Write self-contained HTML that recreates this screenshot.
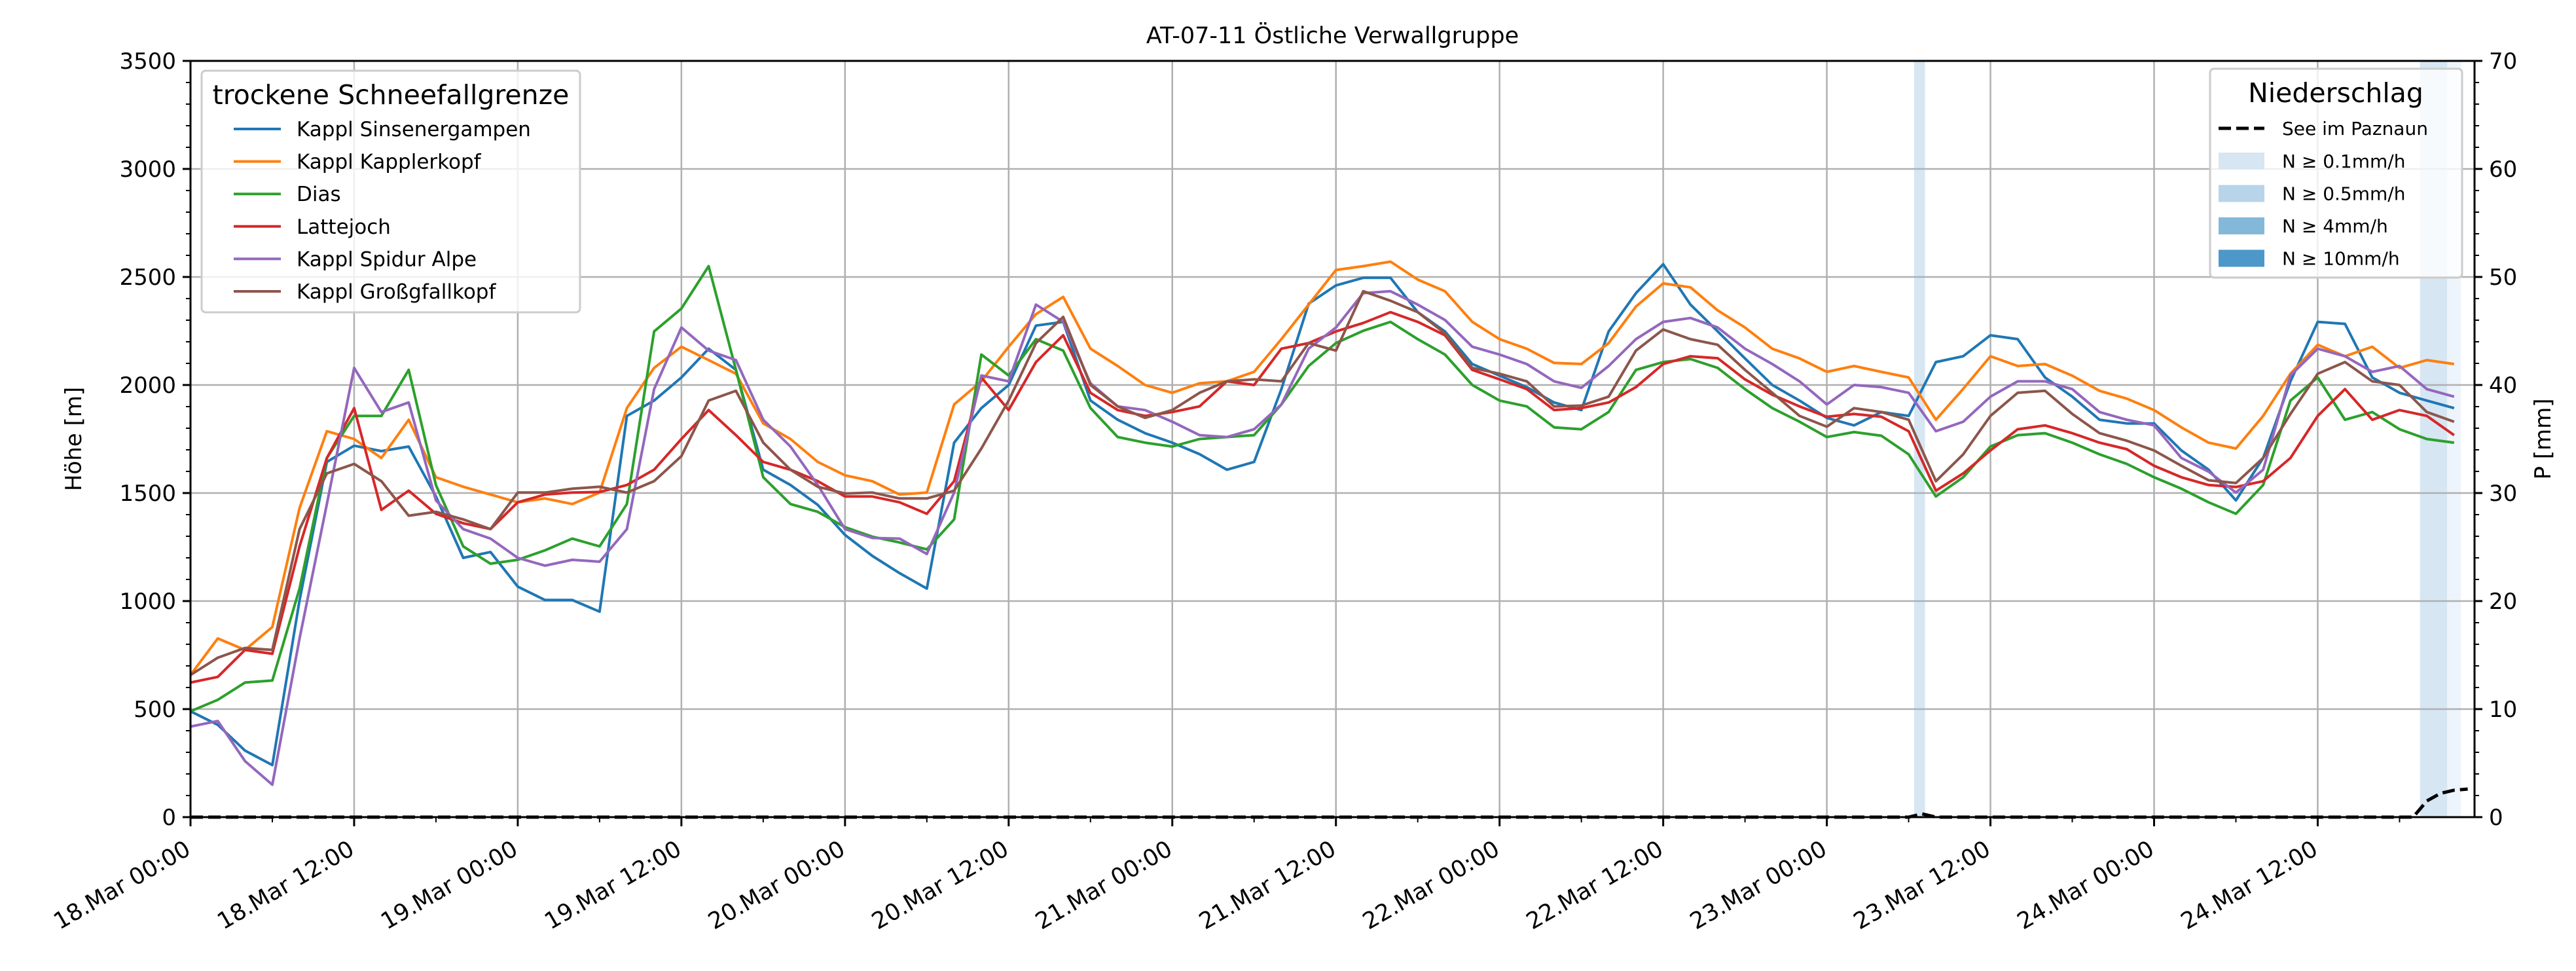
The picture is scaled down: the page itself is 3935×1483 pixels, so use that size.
<!DOCTYPE html>
<html><head><meta charset="utf-8">
<style>
html,body{margin:0;padding:0;background:#fff;}
svg{display:block;font-family:"DejaVu Sans","Liberation Sans",sans-serif;}
</style></head>
<body>
<svg id="chart" width="3935" height="1483" viewBox="0 0 3935 1483" xmlns="http://www.w3.org/2000/svg">
<rect width="3935" height="1483" fill="#fff"/>
<g id="bands"></g>
<g id="grid"></g>
<g id="series"></g>
<g id="axes"></g>
<g id="legends"></g>
</svg>
<script>
const hours = [];
for (let h = 0; h <= 166; h += 2) hours.push(h);
const seriesNames = ["Kappl Sinsenergampen","Kappl Kapplerkopf","Dias","Lattejoch","Kappl Spidur Alpe","Kappl Großgfallkopf"];
const seriesColors = ["#1f77b4","#ff7f0e","#2ca02c","#d62728","#9467bd","#8c564b"];
const sinsener = [490,427,308,241,1004,1644,1719,1694,1715,1484,1200,1227,1067,1005,1005,951,1857,1928,2035,2168,2070,1608,
1537,1445,1306,1209,1129,1058,1733,1893,2000,2275,2292,1928,1839,1777,1733,1680,1608,1644,1981,2376,
2461,2496,2496,2337,2248,2097,2043,1990,1919,1884,2248,2425,2559,2372,2248,2123,2000,1928,1848,1813,1875,
1857,2106,2133,2230,2212,2035,1946,1839,1822,1822,1697,1608,1466,1662,2017,2292,2283,2035,1964,1928,1893];
const kapplerkopf = [658,827,774,880,1431,1786,1750,1662,1839,1573,1529,1493,1457,1475,1449,1502,1893,2079,2177,2115,2052,1822,
1750,1644,1582,1555,1493,1502,1910,2017,2177,2328,2408,2168,2088,2000,1964,2008,2017,2061,2212,2372,
2532,2550,2571,2488,2434,2292,2212,2168,2102,2097,2194,2363,2470,2452,2345,2266,2168,2123,2061,2088,2061,
2035,1839,1982,2133,2088,2097,2043,1973,1937,1884,1804,1733,1706,1857,2052,2186,2133,2177,2079,2115,2097];
const dias = [490,543,623,632,1058,1662,1857,1857,2070,1537,1253,1173,1191,1235,1289,1253,1449,2248,2354,2550,2070,1573,
1449,1413,1342,1298,1271,1239,1378,2141,2044,2212,2159,1893,1759,1733,1715,1750,1759,1768,1910,2088,
2194,2251,2292,2212,2141,2000,1928,1901,1804,1795,1875,2070,2106,2120,2079,1981,1893,1830,1759,1782,1765,
1679,1484,1573,1715,1768,1777,1733,1679,1635,1573,1520,1457,1404,1537,1928,2035,1839,1875,1795,1750,1733];
const lattejoch = [623,649,774,756,1253,1662,1893,1422,1511,1404,1360,1333,1457,1493,1502,1505,1537,1608,1750,1884,1768,1644,
1608,1555,1484,1484,1457,1404,1555,2035,1884,2106,2230,1964,1884,1857,1875,1901,2017,2000,2168,2194,
2248,2287,2337,2292,2230,2070,2026,1981,1884,1893,1919,1990,2097,2133,2124,2026,1955,1901,1853,1866,1853,
1786,1511,1591,1697,1795,1813,1777,1733,1703,1626,1573,1537,1528,1555,1662,1857,1981,1839,1884,1857,1768];
const spidur = [419,445,259,150,827,1449,2079,1875,1919,1466,1333,1289,1200,1164,1191,1182,1333,1981,2266,2159,2115,1839,
1715,1537,1333,1292,1289,1218,1502,2044,2017,2372,2292,2008,1901,1884,1830,1768,1759,1795,1910,2168,
2266,2425,2434,2372,2301,2177,2141,2097,2017,1987,2088,2212,2292,2310,2266,2168,2097,2017,1910,2000,1990,
1964,1786,1830,1946,2017,2017,1981,1875,1839,1813,1662,1599,1502,1608,2044,2168,2133,2061,2088,1981,1946];
const grossgfall = [658,738,783,774,1333,1591,1635,1555,1395,1413,1378,1333,1502,1502,1520,1529,1502,1555,1671,1928,1973,1733,
1608,1529,1498,1502,1475,1475,1511,1706,1928,2194,2315,2000,1901,1848,1884,1964,2017,2026,2017,2194,
2159,2434,2390,2337,2239,2079,2052,2017,1901,1905,1946,2159,2257,2212,2186,2070,1964,1857,1807,1893,1875,
1839,1555,1679,1857,1964,1973,1866,1777,1742,1697,1626,1559,1546,1662,1866,2052,2106,2017,2000,1875,1830];
const precipHours = [0,126,127,128,129,163,164,165,166,167];
const precipValues = [0,0,0.3,0,0,0,1.5,2.2,2.5,2.6];
const bandStart = [126.4,163.5,165.5];
const bandEnd = [127.2,165.5,166.5];
const bandColor = ["#d6e6f3","#d6e6f3","#eef4fb"];
const xTickHours = [0,12,24,36,48,60,72,84,96,108,120,132,144,156];
const xTickLabels = ["18.Mar 00:00","18.Mar 12:00","19.Mar 00:00","19.Mar 12:00","20.Mar 00:00","20.Mar 12:00","21.Mar 00:00","21.Mar 12:00","22.Mar 00:00","22.Mar 12:00","23.Mar 00:00","23.Mar 12:00","24.Mar 00:00","24.Mar 12:00"];
const yTicks = [0,500,1000,1500,2000,2500,3000,3500];
const pTicks = [0,10,20,30,40,50,60,70];

const L=291,R=3780,T=93,B=1248,XMAX=167.5;
const x = h => L + h*(R-L)/XMAX;
const y = v => B - v*(B-T)/3500;
const yp = p => B - p*(B-T)/70;
const NS="http://www.w3.org/2000/svg";
function mk(tag, attrs, parent){const e=document.createElementNS(NS,tag);for(const k in attrs)e.setAttribute(k,attrs[k]);parent.appendChild(e);return e;}
const gB=document.getElementById('bands'),gG=document.getElementById('grid'),gS=document.getElementById('series'),gA=document.getElementById('axes'),gL=document.getElementById('legends');

bandStart.forEach((s,i)=>{
  const r=mk('rect',{x:x(s),y:T,width:x(bandEnd[i])-x(s),height:B-T,fill:bandColor[i]},gB);
  
  
});
xTickHours.forEach(h=>{const l=mk('line',{x1:x(h),x2:x(h),y1:T,y2:B,stroke:'#b0b0b0','stroke-width':2.5},gG);
  });
yTicks.forEach(v=>{const l=mk('line',{x1:L,x2:R,y1:y(v),y2:y(v),stroke:'#b0b0b0','stroke-width':2.5},gG);
  });

const allSeries=[sinsener,kapplerkopf,dias,lattejoch,spidur,grossgfall];
allSeries.forEach((arr,i)=>{
  const d=arr.map((v,j)=>(j?'L':'M')+x(hours[j]).toFixed(1)+','+y(v).toFixed(1)).join('');
  const p=mk('path',{d:d,fill:'none',stroke:seriesColors[i],'stroke-width':4,'stroke-linejoin':'round'},gS);
  
  
});
{
  const d=precipHours.map((h,j)=>(j?'L':'M')+x(h).toFixed(1)+','+yp(precipValues[j]).toFixed(1)).join('');
  const p=mk('path',{d:d,fill:'none',stroke:'#000','stroke-width':5,'stroke-dasharray':'19,8'},gS);
  
  
}

const fr=mk('rect',{x:L,y:T,width:R-L,height:B-T,fill:'none',stroke:'#000','stroke-width':3},gA);


yTicks.forEach(v=>{
  mk('line',{x1:L-12,x2:L,y1:y(v),y2:y(v),stroke:'#000','stroke-width':3},gA);
  const t=mk('text',{x:L-22,y:y(v)+12,'text-anchor':'end','font-size':34},gA);t.textContent=v;
  
});
for(let v=0;v<=3500;v+=100){if(v%500)mk('line',{x1:L-7,x2:L,y1:y(v),y2:y(v),stroke:'#000','stroke-width':2},gA);}
pTicks.forEach(p=>{
  mk('line',{x1:R,x2:R+12,y1:yp(p),y2:yp(p),stroke:'#000','stroke-width':3},gA);
  const t=mk('text',{x:R+22,y:yp(p)+12,'text-anchor':'start','font-size':34},gA);t.textContent=p;
  
});
for(let p=0;p<=70;p+=2){if(p%10)mk('line',{x1:R,x2:R+7,y1:yp(p),y2:yp(p),stroke:'#000','stroke-width':2},gA);}
xTickHours.forEach((h,i)=>{
  mk('line',{x1:x(h),x2:x(h),y1:B,y2:B+14,stroke:'#000','stroke-width':3},gA);
  const t=mk('text',{transform:`translate(${x(h)-10},${B+34}) rotate(-30)`,'text-anchor':'end','dominant-baseline':'hanging','font-size':35},gA);
  t.textContent=xTickLabels[i];
  
});
for(let h=6;h<XMAX;h+=12){mk('line',{x1:x(h),x2:x(h),y1:B,y2:B+8,stroke:'#000','stroke-width':2},gA);}
let t=mk('text',{x:(L+R)/2,y:66,'text-anchor':'middle','font-size':35},gA);t.textContent='AT-07-11 Östliche Verwallgruppe';

t=mk('text',{transform:`translate(124,${(T+B)/2}) rotate(-90)`,'text-anchor':'middle','font-size':34},gA);t.textContent='Höhe [m]';

t=mk('text',{transform:`translate(3896,${(T+B)/2}) rotate(-90)`,'text-anchor':'middle','font-size':34},gA);t.textContent='P [mm]';


const lg=mk('g',{},gL);

mk('rect',{x:308,y:108,width:578,height:369,rx:6,fill:'#fff','fill-opacity':0.8,stroke:'#cccccc','stroke-width':3},lg);
t=mk('text',{x:597,y:159,'text-anchor':'middle','font-size':41},lg);t.textContent='trockene Schneefallgrenze';

seriesNames.forEach((n,i)=>{
  const yy=197+i*49.6;
  const ln=mk('line',{x1:357,x2:429,y1:yy,y2:yy,stroke:seriesColors[i],'stroke-width':4},lg);
  
  const tx=mk('text',{x:453,y:yy+11,'font-size':31},lg);tx.textContent=n;
  
});
const rg=mk('g',{},gL);

mk('rect',{x:3376,y:105,width:385,height:319,rx:6,fill:'#fff','fill-opacity':0.8,stroke:'#cccccc','stroke-width':3},rg);
t=mk('text',{x:3568,y:156,'text-anchor':'middle','font-size':41},rg);t.textContent='Niederschlag';

let ln=mk('line',{x1:3389,x2:3459,y1:196,y2:196,stroke:'#000','stroke-width':5,'stroke-dasharray':'19,8'},rg);

t=mk('text',{x:3486,y:206,'font-size':28},rg);t.textContent='See im Paznaun';

const pLabels=['N ≥ 0.1mm/h','N ≥ 0.5mm/h','N ≥ 4mm/h','N ≥ 10mm/h'];
const pColors=['#d6e6f3','#b7d4ea','#84b8d9','#4b98c9'];
pLabels.forEach((s,i)=>{
  const yy=246+i*49.5;
  const r=mk('rect',{x:3389,y:yy-13,width:70,height:26,fill:pColors[i]},rg);
  
  const tx=mk('text',{x:3486,y:yy+10,'font-size':28},rg);tx.textContent=s;
  
});
</script>
</body></html>
